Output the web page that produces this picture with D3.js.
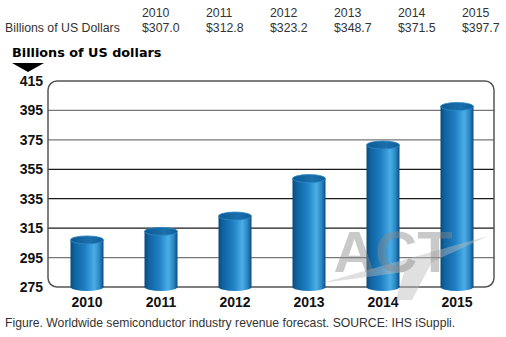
<!DOCTYPE html>
<html><head><meta charset="utf-8">
<script src="https://cdn.jsdelivr.net/npm/d3@7"></script>
<style>html,body{margin:0;padding:0;background:#fff;}svg{display:block;}</style>
</head><body>
<script>
const years = ["2010","2011","2012","2013","2014","2015"];
const values = [307.0, 312.8, 323.2, 348.7, 371.5, 397.7];
const yTicks = [275, 295, 315, 335, 355, 375, 395, 415];
const rowLabel = "Billions of US Dollars";
const axisTitle = "Billions of US dollars";
const caption = "Figure. Worldwide semiconductor industry revenue forecast. SOURCE: IHS iSuppli.";
const watermark = "ACT";

const W = 506, H = 337;
const svg = d3.select("body").append("svg").attr("width", W).attr("height", H);

const defs = svg.append("defs");
const g1 = defs.append("linearGradient").attr("id","body").attr("x1","0").attr("x2","1").attr("y1","0").attr("y2","0");
[[0,"#0a4a78"],[0.12,"#0f62a0"],[0.45,"#1f80c4"],[0.72,"#4aaee6"],[0.88,"#2b86c4"],[1,"#0b4d7e"]]
  .forEach(([o,c])=>g1.append("stop").attr("offset",o).attr("stop-color",c));
const g2 = defs.append("linearGradient").attr("id","top").attr("x1","0").attr("x2","1").attr("y1","0").attr("y2","0");
[[0,"#0d5a92"],[0.6,"#1a70ad"],[1,"#0f5f98"]]
  .forEach(([o,c])=>g2.append("stop").attr("offset",o).attr("stop-color",c));

// top table
const tx = d3.scalePoint().domain(years).range([142, 462]);
const fmt = d3.format("$.1f");
svg.append("text").attr("x",5).attr("y",32).text(rowLabel)
  .attr("font-family","Liberation Sans, Arial").attr("font-size",12.3).attr("fill","#333");
years.forEach((y,i)=>{
  svg.append("text").attr("x",tx(y)).attr("y",17).text(y)
    .attr("font-family","Liberation Sans, Arial").attr("font-size",12.3).attr("fill","#333");
  svg.append("text").attr("x",tx(y)).attr("y",32).text(fmt(values[i]))
    .attr("font-family","Liberation Sans, Arial").attr("font-size",12.3).attr("fill","#333");
});

// axis title + arrow
svg.append("text").attr("x",12).attr("y",57).text(axisTitle)
  .attr("font-family","DejaVu Sans, Verdana").attr("font-weight","bold").attr("font-size",12.8).attr("fill","#000");
svg.append("path").attr("d","M12,63 L44,63 L28,72 Z").attr("fill","#000");

const x = d3.scaleBand().domain(years).range([50, 494]).paddingInner(0.554).paddingOuter(0.277);
const y = d3.scaleLinear().domain([275, 415]).range([287, 81]);

// gridlines
const gridColor = t => (t >= 315 && t <= 355) ? "#1a1a1a" : "#777";
svg.append("g").selectAll("line").data(yTicks.filter(t => t > 275 && t < 415)).join("line")
  .attr("x1",48).attr("x2",494).attr("y1",d=>y(d)).attr("y2",d=>y(d))
  .attr("stroke",gridColor).attr("stroke-width",1.3);

// frame
svg.append("rect").attr("x",48).attr("y",y(415)).attr("width",446).attr("height",y(275)-y(415))
  .attr("rx",9).attr("fill","none").attr("stroke","#555").attr("stroke-width",1.5);

// y labels
const yAxis = d3.axisLeft(y).tickValues(yTicks).tickSize(0).tickPadding(0);
const ya = svg.append("g").attr("transform","translate(43,0)").call(yAxis);
ya.select(".domain").remove();
ya.selectAll("text").attr("font-family","Liberation Sans, Arial").attr("font-weight","bold")
  .attr("font-size",14).attr("fill","#111");

// bars (cylinders)
const ry = 4;
const bars = svg.append("g").selectAll("g").data(years.map((yr,i)=>({yr, v: values[i]}))).join("g");
bars.append("ellipse").attr("cx",d=>x(d.yr)+x.bandwidth()/2).attr("cy",y(275))
  .attr("rx",x.bandwidth()/2).attr("ry",ry).attr("fill","url(#body)");
bars.append("rect").attr("x",d=>x(d.yr)).attr("width",x.bandwidth())
  .attr("y",d=>y(d.v)).attr("height",d=>y(275)-y(d.v)).attr("fill","url(#body)");
bars.append("ellipse").attr("cx",d=>x(d.yr)+x.bandwidth()/2).attr("cy",d=>y(d.v))
  .attr("rx",x.bandwidth()/2).attr("ry",ry).attr("fill","url(#top)")
  .attr("stroke","#2f88c6").attr("stroke-width",0.8);

// x labels
const xAxis = d3.axisBottom(x).tickSize(0).tickPadding(0);
const xa = svg.append("g").attr("transform","translate(0,297)").call(xAxis);
xa.select(".domain").remove();
xa.selectAll("text").attr("font-family","Liberation Sans, Arial").attr("font-weight","bold")
  .attr("font-size",14).attr("fill","#111");

// watermark
svg.append("path").attr("d","M322,283 L488,236 L432,262 L412,300 L396,300 L404,272 Z")
  .attr("fill","#bbb").attr("opacity",0.45);
svg.append("text").attr("x",393).attr("y",272).attr("text-anchor","middle").text(watermark)
  .attr("font-family","Liberation Sans, Arial").attr("font-weight","bold").attr("font-size",58)
  .attr("fill","#888").attr("opacity",0.45);

// caption
svg.append("text").attr("x",5).attr("y",327).text(caption)
  .attr("font-family","Liberation Sans, Arial").attr("font-size",12.2).attr("fill","#333");
</script>
</body></html>
